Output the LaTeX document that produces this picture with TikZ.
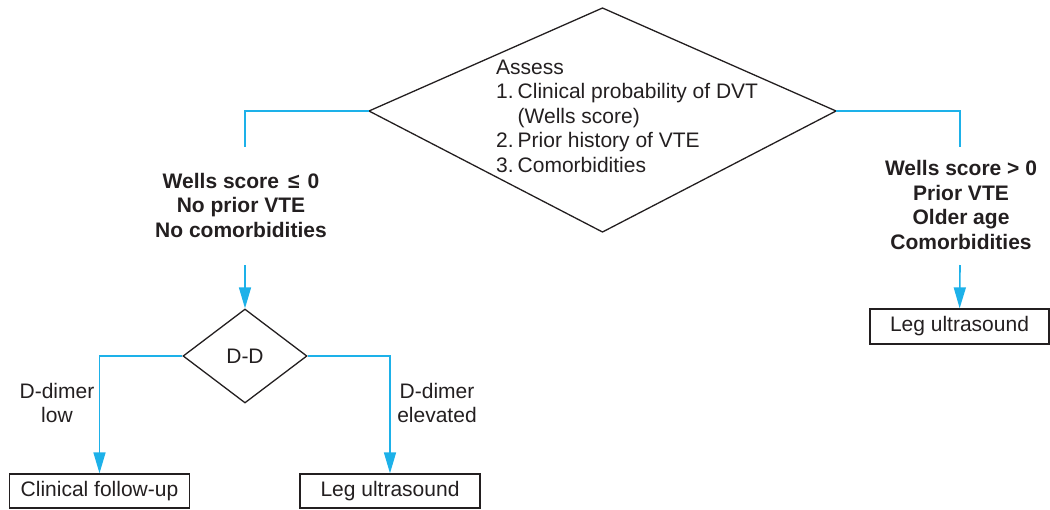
\documentclass[tikz,border=0pt]{standalone}
\usepackage{fontspec}
\setmainfont{Liberation Sans}
\usetikzlibrary{positioning,arrows.meta,shapes.geometric}
\definecolor{flow}{HTML}{1DB1E9}
\definecolor{ink}{HTML}{231F20}

\begin{document}
\begin{tikzpicture}[
    x=1pt, y=-1pt,
    font=\fontsize{21}{24.5}\selectfont, text=ink,
    box/.style={draw=ink, line width=1.3pt, minimum width=180pt, minimum height=34pt, inner sep=0pt},
    crit/.style={align=center, font=\fontsize{21}{24.5}\selectfont\bfseries},
    lbl/.style={align=center},
    dec/.style={draw=ink, line width=1.3pt},
    link/.style={draw=flow, line width=1.6pt},
    arr/.style={link, -{Triangle[length=21pt, width=12pt]}}
]
    \path[use as bounding box] (0,0) rectangle (1050,509);

    % assessment
    \coordinate (atop) at (602.5,8);
    \coordinate (aright) at (836,111);
    \coordinate (abot) at (602.5,232);
    \coordinate (aleft) at (369,111);
    \draw[dec] (atop) -- (aright) -- (abot) -- (aleft) -- cycle;
    \node[anchor=west, align=left, inner sep=0pt] (assess) at (496,116)
        {Assess\\1.\hspace{4pt}Clinical probability of DVT\\\phantom{1.\hspace{4pt}}(Wells score)\\2.\hspace{4pt}Prior history of VTE\\3.\hspace{4pt}Comorbidities};

    % low probability branch
    \node[crit] (low) at (241,205) {Wells score\hspace{9pt}≤\hspace{8pt}0\\No prior VTE\\No comorbidities};
    \coordinate (lowin) at (245,147);
    \coordinate (lowout) at (245,265);
    \draw[link] (aleft) -| (lowin);

    \node[diamond, dec, minimum width=124pt, minimum height=94pt, inner sep=0pt] (dd) at (245,356) {D-D};
    \draw[arr] (lowout) -- (dd);

    \node[box] (follow) at (99.5,491) {Clinical follow-up};
    \node[box] (usleft) at (390,491) {Leg ultrasound};
    \draw[arr] (dd.west) -| (follow);
    \draw[arr] (dd.east) -| (usleft);
    \node[lbl] (lowlbl) at (57,403) {D-dimer\\low};
    \node[lbl] (highlbl) at (437,403) {D-dimer\\elevated};

    % high probability branch
    \node[crit] (high) at (961,205) {Wells score > 0\\Prior VTE\\Older age\\Comorbidities};
    \coordinate (highin) at (960,147);
    \coordinate (highout) at (960,265);
    \draw[link] (aright) -| (highin);

    \node[box, minimum width=179pt, minimum height=35pt] (usright) at (959.5,326.5) {Leg ultrasound};
    \draw[arr] (highout) -- (usright);
\end{tikzpicture}
\end{document}
